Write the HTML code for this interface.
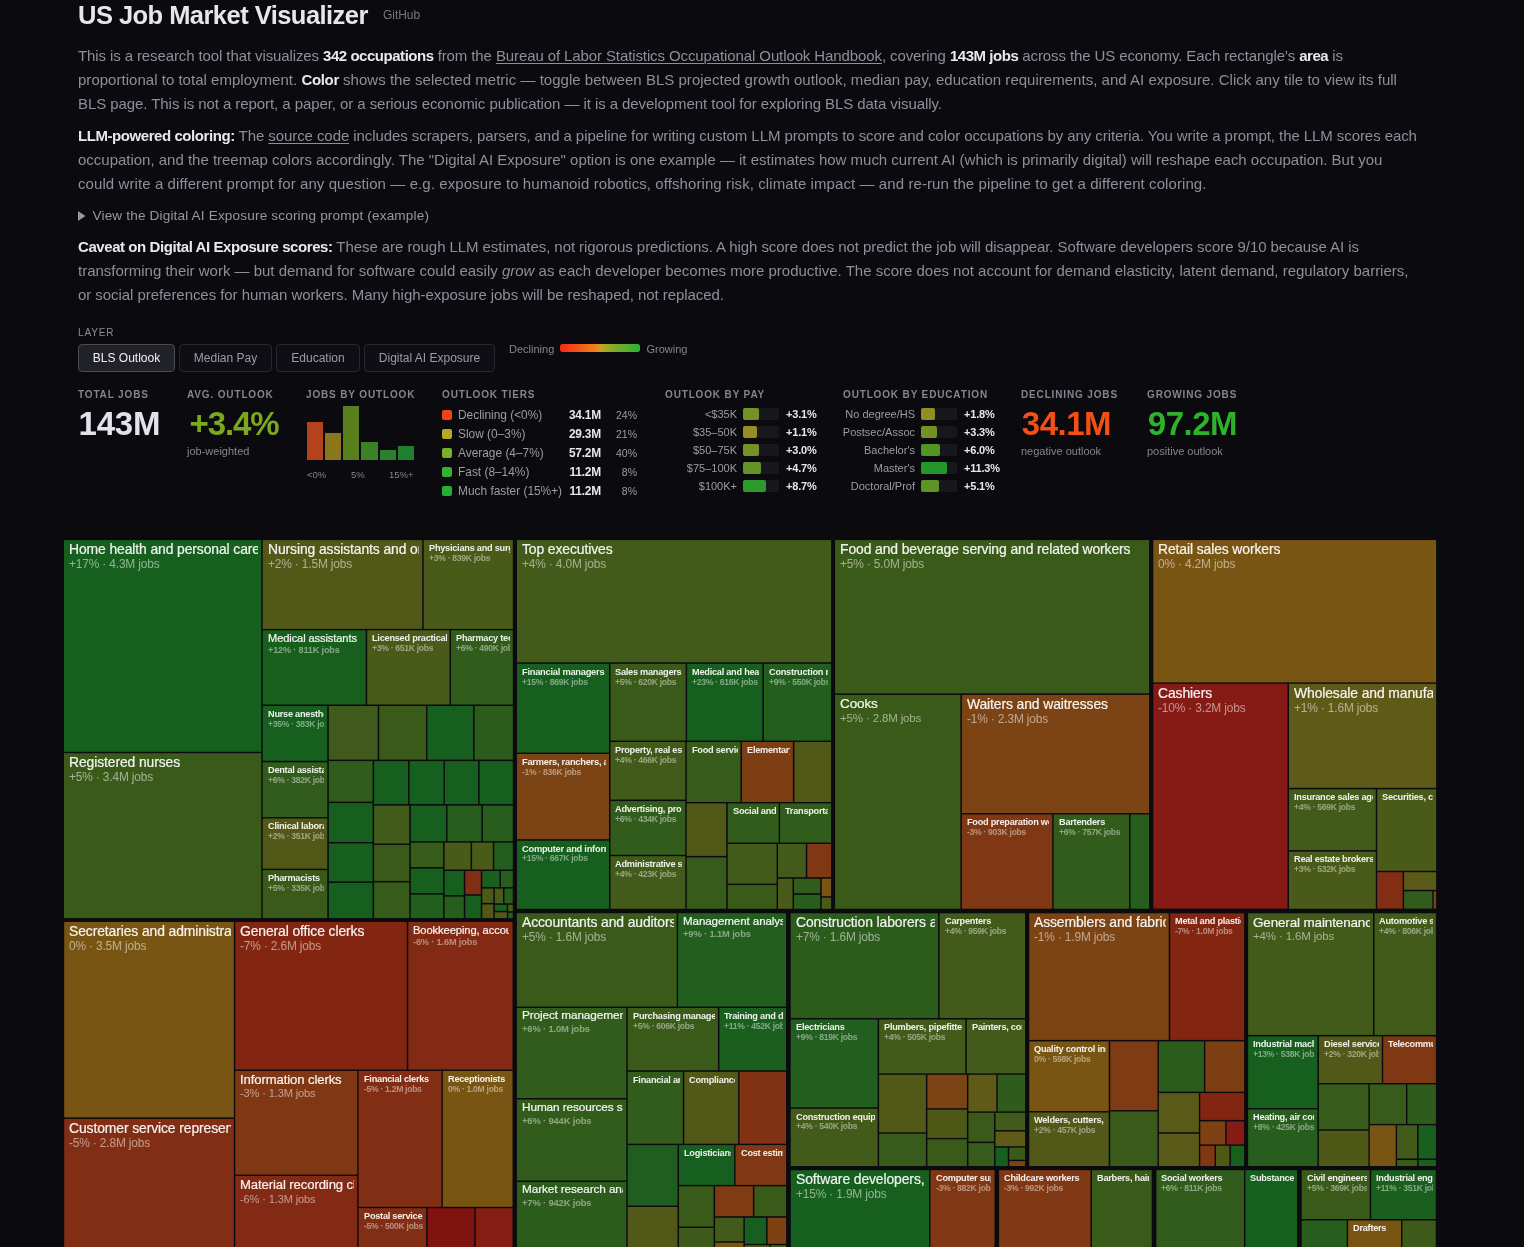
<!DOCTYPE html><html lang="en"><head><meta charset="utf-8"><title>US Job Market Visualizer</title>
<style>
*{box-sizing:border-box;margin:0;padding:0}
html,body{background:#0a0a0f;width:1524px;height:1247px;overflow:hidden}
body{position:relative;font-family:"Liberation Sans",sans-serif;color:#9898a4}
.abs{position:absolute;white-space:nowrap}
h1{letter-spacing:var(--ls,0px);position:absolute;left:78px;top:0;font-size:25.5px;line-height:30px;font-weight:700;color:#e6e6ee;white-space:nowrap}
.gh{letter-spacing:var(--ls,0px);position:absolute;font-size:12px;color:#77777f;white-space:nowrap}
.ln{position:absolute;left:78px;font-size:15px;line-height:20px;height:20px;white-space:nowrap;color:#8f8f9b;letter-spacing:var(--ls,0px)}
.ln b{color:#e8e8f0;font-weight:700;letter-spacing:calc(var(--ls,0px) - .36px)}
.ln u{text-decoration-thickness:1px;text-underline-offset:2px}
.sum{letter-spacing:var(--ls,0px);position:absolute;left:78px;font-size:13.6px;line-height:18px;color:#9797a3;white-space:nowrap}
.cap{position:absolute;font-size:10px;line-height:12px;letter-spacing:.85px;color:#85858f;text-transform:uppercase;white-space:nowrap;font-weight:700}
.btn{position:absolute;top:344px;height:28px;border:1px solid #27272f;border-radius:4px;background:#0e0e14;color:#9c9ca6;font-size:12px;line-height:26px;text-align:center;white-space:nowrap}
.btn.on{background:#212128;border-color:#4b4b55;color:#f0f0f4}
.big{position:absolute;font-size:33px;line-height:36px;font-weight:700;letter-spacing:-.7px;white-space:nowrap}
.sml{position:absolute;font-size:11px;line-height:13px;color:#85858f;white-space:nowrap}
.row{position:absolute;font-size:11.9px;line-height:13px;white-space:nowrap;color:#9c9ca6}
.row b{color:#e6e6ee;letter-spacing:-.2px}
.r{text-align:right}
.sq{position:absolute;width:10px;height:10px;border-radius:2px}
.trk{position:absolute;height:12px;border-radius:2px;background:#17171e}
.fil{position:absolute;left:0;top:0;height:12px;border-radius:2px}
#tm{position:absolute;left:0;top:0;width:1524px;height:1247px;overflow:hidden}
.t{position:absolute;overflow:hidden}
.t i,.t s{position:absolute;left:5px;right:3px;overflow:hidden;white-space:nowrap;font-style:normal;text-decoration:none;display:block}
.t s{color:rgba(255,255,255,.52)}
.t i{color:rgba(255,255,255,.92);font-weight:700;line-height:1.2}
.t s{line-height:1.2}
.tr i{font-weight:400;-webkit-text-stroke:.22px rgba(255,255,255,.9);letter-spacing:-.1px}
.tr s{letter-spacing:-.15px}
.tb i{letter-spacing:-.25px}
.tb s{font-weight:700;letter-spacing:-.3px;color:rgba(255,255,255,.45)}
</style></head><body>
<h1 id="h1" style="top:-0.5px;--ls:-0.540px;">US Job Market Visualizer</h1>
<span class="gh" id="gh" style="left:383px;top:7.8px;--ls:-0.052px;">GitHub</span>
<div class="ln" id="l1" style="top:45.7px;--ls:-0.106px;">This is a research tool that visualizes <b>342 occupations</b> from the <u>Bureau of Labor Statistics Occupational Outlook Handbook</u>, covering <b>143M jobs</b> across the US economy. Each rectangle's <b>area</b> is</div>
<div class="ln" id="l2" style="top:69.7px;--ls:0.023px;">proportional to total employment. <b>Color</b> shows the selected metric — toggle between BLS projected growth outlook, median pay, education requirements, and AI exposure. Click any tile to view its full</div>
<div class="ln" id="l3" style="top:93.6px;--ls:-0.070px;">BLS page. This is not a report, a paper, or a serious economic publication — it is a development tool for exploring BLS data visually.</div>
<div class="ln" id="l4" style="top:125.8px;--ls:-0.074px;"><b>LLM-powered coloring:</b> The <u>source code</u> includes scrapers, parsers, and a pipeline for writing custom LLM prompts to score and color occupations by any criteria. You write a prompt, the LLM scores each</div>
<div class="ln" id="l5" style="top:149.8px;--ls:-0.011px;">occupation, and the treemap colors accordingly. The "Digital AI Exposure" option is one example — it estimates how much current AI (which is primarily digital) will reshape each occupation. But you</div>
<div class="ln" id="l6" style="top:173.7px;--ls:0.085px;">could write a different prompt for any question — e.g. exposure to humanoid robotics, offshoring risk, climate impact — and re-run the pipeline to get a different coloring.</div>
<div class="ln" id="l7" style="top:237.0px;--ls:-0.068px;"><b>Caveat on Digital AI Exposure scores:</b> These are rough LLM estimates, not rigorous predictions. A high score does not predict the job will disappear. Software developers score 9/10 because AI is</div>
<div class="ln" id="l8" style="top:261.0px;--ls:-0.007px;">transforming their work — but demand for software could easily <i>grow</i> as each developer becomes more productive. The score does not account for demand elasticity, latent demand, regulatory barriers,</div>
<div class="ln" id="l9" style="top:285.0px;--ls:-0.054px;">or social preferences for human workers. Many high-exposure jobs will be reshaped, not replaced.</div>
<div class="sum" id="sum" style="top:206.5px;padding-left:14.5px;--ls:0.155px;"><svg width="8" height="10" viewBox="0 0 8 10" style="position:absolute;left:0;top:4.5px"><path d="M0 0L7.5 5L0 10Z" fill="#9797a3"/></svg>View the Digital AI Exposure scoring prompt (example)</div>
<div class="cap" style="left:78px;top:327px;font-weight:400;color:#8e8e98">Layer</div>
<div class="btn on" style="left:78px;width:97px">BLS Outlook</div>
<div class="btn" style="left:179px;width:93px">Median Pay</div>
<div class="btn" style="left:276px;width:84px">Education</div>
<div class="btn" style="left:364px;width:131px">Digital AI Exposure</div>
<div class="sml" style="left:509px;top:343px">Declining</div>
<div class="abs" style="left:560px;top:344px;width:80px;height:8px;border-radius:2.5px;background:linear-gradient(90deg,#f62a14 0%,#f25a18 25%,#ee8c1e 49.5%,#c0a226 50.5%,#7aac2a 70%,#2ab432 100%)"></div>
<div class="sml" style="left:646.5px;top:343px">Growing</div>
<div class="cap" style="left:78px;top:389px">Total jobs</div>
<div class="big" style="left:78.5px;top:406px;color:#e2e2ec;letter-spacing:-.2px">143M</div>
<div class="cap" style="left:187px;top:389px">Avg. outlook</div>
<div class="big" style="left:189.6px;top:406px;color:#7ca81e;letter-spacing:-1.15px">+3.4%</div>
<div class="sml" style="left:187px;top:445px">job-weighted</div>
<div class="cap" style="left:306px;top:389px">Jobs by outlook</div>
<div class="abs" style="left:307px;width:16px;top:422px;height:38px;background:#b4431b"></div>
<div class="abs" style="left:325px;width:16px;top:433px;height:27px;background:#8a761c"></div>
<div class="abs" style="left:343px;width:16px;top:406px;height:54px;background:#587f1c"></div>
<div class="abs" style="left:361px;width:17px;top:442px;height:18px;background:#3c8028"></div>
<div class="abs" style="left:380px;width:16px;top:450px;height:10px;background:#2a802c"></div>
<div class="abs" style="left:398px;width:16px;top:446px;height:14px;background:#1e802c"></div>
<div class="sml" style="left:307px;top:468px;font-size:9.5px">&lt;0%</div>
<div class="sml" style="left:351px;top:468px;font-size:9.5px">5%</div>
<div class="sml" style="left:389px;top:468px;font-size:9.5px">15%+</div>
<div class="cap" style="left:442px;top:389px">Outlook tiers</div>
<div class="sq" style="left:442px;top:410.3px;background:#f2421a"></div>
<div class="row" style="left:458px;top:408.8px">Declining (&lt;0%)</div>
<div class="row r" style="left:541px;width:60px;top:408.8px"><b>34.1M</b></div>
<div class="row r" style="left:597px;width:40px;top:408.8px;font-size:10.5px">24%</div>
<div class="sq" style="left:442px;top:429.3px;background:#b4a824"></div>
<div class="row" style="left:458px;top:427.8px">Slow (0–3%)</div>
<div class="row r" style="left:541px;width:60px;top:427.8px"><b>29.3M</b></div>
<div class="row r" style="left:597px;width:40px;top:427.8px;font-size:10.5px">21%</div>
<div class="sq" style="left:442px;top:448.3px;background:#78b028"></div>
<div class="row" style="left:458px;top:446.8px">Average (4–7%)</div>
<div class="row r" style="left:541px;width:60px;top:446.8px"><b>57.2M</b></div>
<div class="row r" style="left:597px;width:40px;top:446.8px;font-size:10.5px">40%</div>
<div class="sq" style="left:442px;top:467.3px;background:#34b032"></div>
<div class="row" style="left:458px;top:465.8px">Fast (8–14%)</div>
<div class="row r" style="left:541px;width:60px;top:465.8px"><b>11.2M</b></div>
<div class="row r" style="left:597px;width:40px;top:465.8px;font-size:10.5px">8%</div>
<div class="sq" style="left:442px;top:486.3px;background:#24b034"></div>
<div class="row" style="left:458px;top:484.8px">Much faster (15%+)</div>
<div class="row r" style="left:541px;width:60px;top:484.8px"><b>11.2M</b></div>
<div class="row r" style="left:597px;width:40px;top:484.8px;font-size:10.5px">8%</div>
<div class="cap" style="left:665px;top:389px">Outlook by pay</div>
<div class="row r" style="left:657px;width:80px;top:407.5px;font-size:11px">&lt;$35K</div>
<div class="trk" style="left:743px;width:36px;top:408px"><div class="fil" style="width:16px;background:#769226"></div></div>
<div class="row" style="left:786px;top:407.5px;font-size:11px"><b>+3.1%</b></div>
<div class="row r" style="left:657px;width:80px;top:425.5px;font-size:11px">$35–50K</div>
<div class="trk" style="left:743px;width:36px;top:426px"><div class="fil" style="width:14px;background:#988c22"></div></div>
<div class="row" style="left:786px;top:425.5px;font-size:11px"><b>+1.1%</b></div>
<div class="row r" style="left:657px;width:80px;top:443.5px;font-size:11px">$50–75K</div>
<div class="trk" style="left:743px;width:36px;top:444px"><div class="fil" style="width:16px;background:#769226"></div></div>
<div class="row" style="left:786px;top:443.5px;font-size:11px"><b>+3.0%</b></div>
<div class="row r" style="left:657px;width:80px;top:461.5px;font-size:11px">$75–100K</div>
<div class="trk" style="left:743px;width:36px;top:462px"><div class="fil" style="width:18px;background:#629426"></div></div>
<div class="row" style="left:786px;top:461.5px;font-size:11px"><b>+4.7%</b></div>
<div class="row r" style="left:657px;width:80px;top:479.5px;font-size:11px">$100K+</div>
<div class="trk" style="left:743px;width:36px;top:480px"><div class="fil" style="width:23px;background:#2e9a2c"></div></div>
<div class="row" style="left:786px;top:479.5px;font-size:11px"><b>+8.7%</b></div>
<div class="cap" style="left:843px;top:389px">Outlook by education</div>
<div class="row r" style="left:835px;width:80px;top:407.5px;font-size:11px">No degree/HS</div>
<div class="trk" style="left:921px;width:36px;top:408px"><div class="fil" style="width:14px;background:#8e9024"></div></div>
<div class="row" style="left:964px;top:407.5px;font-size:11px"><b>+1.8%</b></div>
<div class="row r" style="left:835px;width:80px;top:425.5px;font-size:11px">Postsec/Assoc</div>
<div class="trk" style="left:921px;width:36px;top:426px"><div class="fil" style="width:16px;background:#749224"></div></div>
<div class="row" style="left:964px;top:425.5px;font-size:11px"><b>+3.3%</b></div>
<div class="row r" style="left:835px;width:80px;top:443.5px;font-size:11px">Bachelor's</div>
<div class="trk" style="left:921px;width:36px;top:444px"><div class="fil" style="width:19px;background:#529426"></div></div>
<div class="row" style="left:964px;top:443.5px;font-size:11px"><b>+6.0%</b></div>
<div class="row r" style="left:835px;width:80px;top:461.5px;font-size:11px">Master's</div>
<div class="trk" style="left:921px;width:36px;top:462px"><div class="fil" style="width:26px;background:#24962a"></div></div>
<div class="row" style="left:964px;top:461.5px;font-size:11px"><b>+11.3%</b></div>
<div class="row r" style="left:835px;width:80px;top:479.5px;font-size:11px">Doctoral/Prof</div>
<div class="trk" style="left:921px;width:36px;top:480px"><div class="fil" style="width:18px;background:#5e9426"></div></div>
<div class="row" style="left:964px;top:479.5px;font-size:11px"><b>+5.1%</b></div>
<div class="cap" style="left:1021px;top:389px">Declining jobs</div>
<div class="big" style="left:1021.8px;top:406px;color:#f45016;letter-spacing:-.5px">34.1M</div>
<div class="sml" style="left:1021px;top:445px">negative outlook</div>
<div class="cap" style="left:1147px;top:389px">Growing jobs</div>
<div class="big" style="left:1147.8px;top:406px;color:#2eb22a;letter-spacing:-.5px">97.2M</div>
<div class="sml" style="left:1147px;top:445px">positive outlook</div>
<div id="tm">
<svg width="1524" height="1247" viewBox="0 0 1524 1247" style="position:absolute;left:0;top:0">
<rect x="64.0" y="540.1" width="197.3" height="211.7" fill="#165f1e"/>
<rect x="64.0" y="753.2" width="197.3" height="164.9" fill="#3a5a1a"/>
<rect x="262.7" y="540.1" width="159.5" height="88.8" fill="#525818"/>
<rect x="423.7" y="540.1" width="89.1" height="88.8" fill="#4a5a19"/>
<rect x="262.7" y="630.3" width="103.0" height="74.2" fill="#185f1e"/>
<rect x="367.2" y="630.3" width="82.3" height="74.2" fill="#4a5a19"/>
<rect x="451.0" y="630.3" width="61.8" height="74.2" fill="#325c1c"/>
<rect x="262.7" y="706.0" width="64.6" height="54.8" fill="#165f1e"/>
<rect x="262.7" y="762.3" width="64.6" height="54.8" fill="#325c1c"/>
<rect x="262.7" y="818.5" width="64.6" height="50.2" fill="#525818"/>
<rect x="262.7" y="870.1" width="64.6" height="48.0" fill="#3a5a1a"/>
<rect x="328.8" y="706.0" width="48.9" height="53.6" fill="#3f5a1a"/>
<rect x="379.2" y="706.0" width="46.8" height="53.6" fill="#3a5a1a"/>
<rect x="427.4" y="706.0" width="45.7" height="53.6" fill="#175f1e"/>
<rect x="474.6" y="706.0" width="38.2" height="53.6" fill="#2c5c1c"/>
<rect x="328.8" y="761.1" width="43.8" height="40.5" fill="#315c1c"/>
<rect x="328.8" y="803.1" width="43.8" height="38.9" fill="#165f1e"/>
<rect x="328.8" y="843.4" width="43.8" height="38.0" fill="#165f1e"/>
<rect x="328.8" y="882.9" width="43.8" height="35.2" fill="#175f1e"/>
<rect x="374.1" y="761.1" width="34.0" height="43.0" fill="#165f1e"/>
<rect x="409.6" y="761.1" width="33.9" height="43.0" fill="#165f1e"/>
<rect x="444.9" y="761.1" width="33.2" height="43.0" fill="#165f1e"/>
<rect x="479.6" y="761.1" width="33.2" height="43.0" fill="#165f1e"/>
<rect x="374.1" y="805.6" width="35.2" height="37.9" fill="#425a1a"/>
<rect x="374.1" y="844.9" width="35.2" height="36.0" fill="#3a5a1a"/>
<rect x="374.1" y="882.4" width="35.2" height="35.7" fill="#365b1b"/>
<rect x="410.8" y="805.6" width="35.3" height="35.6" fill="#165f1e"/>
<rect x="447.5" y="805.6" width="33.9" height="35.6" fill="#275d1d"/>
<rect x="482.9" y="805.6" width="29.9" height="35.6" fill="#275d1d"/>
<rect x="410.8" y="842.6" width="32.3" height="24.5" fill="#365b1b"/>
<rect x="444.6" y="842.6" width="26.0" height="26.9" fill="#4a5a19"/>
<rect x="472.1" y="842.6" width="20.7" height="26.9" fill="#4a5a19"/>
<rect x="494.3" y="842.6" width="18.5" height="26.9" fill="#225e1e"/>
<rect x="410.8" y="868.6" width="32.3" height="24.5" fill="#165f1e"/>
<rect x="410.8" y="894.6" width="32.3" height="23.5" fill="#225e1e"/>
<rect x="444.6" y="871.0" width="19.2" height="24.1" fill="#165f1e"/>
<rect x="444.6" y="896.6" width="19.2" height="21.5" fill="#275d1d"/>
<rect x="465.3" y="871.0" width="15.5" height="23.2" fill="#822e14"/>
<rect x="465.3" y="895.7" width="15.5" height="22.4" fill="#165f1e"/>
<rect x="482.3" y="871.0" width="17.2" height="16.1" fill="#1b5f1e"/>
<rect x="501.0" y="871.0" width="11.8" height="16.1" fill="#275d1d"/>
<rect x="482.3" y="888.6" width="11.0" height="14.3" fill="#4a5a19"/>
<rect x="494.8" y="888.6" width="8.2" height="14.7" fill="#4a5a19"/>
<rect x="504.5" y="888.6" width="8.3" height="14.7" fill="#275d1d"/>
<rect x="482.3" y="904.4" width="11.0" height="13.7" fill="#525818"/>
<rect x="494.8" y="904.8" width="12.0" height="6.0" fill="#175f1e"/>
<rect x="508.2" y="904.8" width="4.6" height="6.5" fill="#4e5918"/>
<rect x="494.8" y="912.3" width="12.0" height="5.8" fill="#555818"/>
<rect x="508.2" y="912.7" width="4.6" height="5.4" fill="#275d1d"/>
<rect x="517.0" y="540.1" width="314.1" height="122.2" fill="#425a1a"/>
<rect x="517.0" y="663.8" width="92.0" height="88.8" fill="#165f1e"/>
<rect x="610.5" y="663.8" width="75.2" height="76.8" fill="#3a5a1a"/>
<rect x="687.1" y="663.8" width="75.3" height="76.8" fill="#165f1e"/>
<rect x="763.9" y="663.8" width="67.2" height="76.8" fill="#225e1e"/>
<rect x="517.0" y="754.0" width="92.0" height="85.2" fill="#7c4414"/>
<rect x="517.0" y="840.7" width="92.0" height="68.1" fill="#165f1e"/>
<rect x="610.5" y="742.0" width="74.8" height="57.6" fill="#425a1a"/>
<rect x="610.5" y="801.1" width="74.8" height="53.7" fill="#325c1c"/>
<rect x="610.5" y="856.2" width="74.8" height="52.6" fill="#425a1a"/>
<rect x="686.7" y="742.0" width="53.8" height="60.0" fill="#365b1b"/>
<rect x="742.0" y="742.0" width="50.9" height="60.0" fill="#7e3e14"/>
<rect x="794.4" y="742.0" width="36.7" height="60.0" fill="#525818"/>
<rect x="686.7" y="803.4" width="39.5" height="52.5" fill="#525818"/>
<rect x="686.7" y="857.4" width="39.5" height="51.4" fill="#365b1b"/>
<rect x="727.7" y="803.4" width="51.0" height="39.2" fill="#325c1c"/>
<rect x="780.1" y="803.4" width="51.0" height="39.2" fill="#325c1c"/>
<rect x="727.7" y="844.0" width="48.9" height="39.6" fill="#425a1a"/>
<rect x="727.7" y="885.1" width="48.9" height="23.7" fill="#3a5a1a"/>
<rect x="778.0" y="844.0" width="27.8" height="33.2" fill="#425a1a"/>
<rect x="807.3" y="844.0" width="23.8" height="33.2" fill="#803814"/>
<rect x="778.0" y="878.7" width="14.5" height="30.1" fill="#4a5a19"/>
<rect x="794.0" y="878.7" width="26.2" height="14.6" fill="#325c1c"/>
<rect x="794.0" y="894.8" width="26.2" height="14.0" fill="#275d1d"/>
<rect x="821.7" y="878.7" width="9.4" height="17.5" fill="#795513"/>
<rect x="821.7" y="897.6" width="9.4" height="11.2" fill="#4a5a19"/>
<rect x="835.1" y="540.1" width="314.0" height="153.3" fill="#3a5a1a"/>
<rect x="835.1" y="694.9" width="125.3" height="213.8" fill="#3a5a1a"/>
<rect x="961.9" y="694.9" width="187.2" height="118.2" fill="#7c4414"/>
<rect x="961.9" y="814.5" width="90.3" height="94.2" fill="#803814"/>
<rect x="1053.6" y="814.5" width="75.4" height="94.2" fill="#325c1c"/>
<rect x="1130.5" y="814.5" width="18.6" height="94.2" fill="#275d1d"/>
<rect x="1153.3" y="540.1" width="282.8" height="142.3" fill="#795513"/>
<rect x="1153.3" y="683.8" width="134.2" height="224.8" fill="#861a14"/>
<rect x="1289.0" y="683.8" width="147.1" height="104.0" fill="#605a18"/>
<rect x="1289.0" y="789.3" width="86.8" height="60.8" fill="#425a1a"/>
<rect x="1289.0" y="851.6" width="86.8" height="57.1" fill="#4a5a19"/>
<rect x="1377.2" y="789.3" width="58.9" height="81.5" fill="#4a5a19"/>
<rect x="1377.2" y="872.2" width="25.5" height="36.4" fill="#822e14"/>
<rect x="1404.1" y="872.2" width="32.0" height="17.6" fill="#595918"/>
<rect x="1404.1" y="891.3" width="28.2" height="17.3" fill="#325c1c"/>
<rect x="1433.7" y="891.3" width="2.4" height="17.3" fill="#7c4414"/>
<rect x="64.2" y="921.9" width="169.6" height="195.5" fill="#795513"/>
<rect x="64.2" y="1118.9" width="169.6" height="131.1" fill="#822e14"/>
<rect x="235.3" y="921.9" width="171.5" height="147.6" fill="#822612"/>
<rect x="408.3" y="921.9" width="104.2" height="147.6" fill="#822a13"/>
<rect x="235.3" y="1070.9" width="121.9" height="103.7" fill="#803814"/>
<rect x="235.3" y="1176.0" width="121.9" height="74.0" fill="#822a13"/>
<rect x="358.6" y="1070.9" width="82.8" height="135.9" fill="#822e14"/>
<rect x="442.8" y="1070.9" width="69.7" height="135.9" fill="#795513"/>
<rect x="358.6" y="1208.2" width="67.6" height="41.8" fill="#822e14"/>
<rect x="427.7" y="1208.2" width="46.6" height="41.8" fill="#801210"/>
<rect x="475.8" y="1208.2" width="36.7" height="41.8" fill="#851e13"/>
<rect x="516.9" y="913.2" width="159.8" height="93.4" fill="#3a5a1a"/>
<rect x="678.1" y="913.2" width="107.9" height="93.4" fill="#225e1e"/>
<rect x="516.9" y="1008.0" width="109.4" height="90.0" fill="#325c1c"/>
<rect x="516.9" y="1099.5" width="109.4" height="81.0" fill="#325c1c"/>
<rect x="516.9" y="1181.9" width="109.4" height="68.1" fill="#2c5c1c"/>
<rect x="627.7" y="1008.0" width="90.2" height="62.3" fill="#3a5a1a"/>
<rect x="719.4" y="1008.0" width="66.6" height="62.3" fill="#1b5f1e"/>
<rect x="627.7" y="1071.8" width="55.1" height="71.9" fill="#325c1c"/>
<rect x="684.3" y="1071.8" width="53.8" height="71.9" fill="#525818"/>
<rect x="739.5" y="1071.8" width="46.5" height="71.9" fill="#813314"/>
<rect x="627.7" y="1145.1" width="49.8" height="60.5" fill="#1f5e1e"/>
<rect x="627.7" y="1207.0" width="49.8" height="43.0" fill="#525818"/>
<rect x="679.0" y="1145.1" width="55.1" height="39.8" fill="#175f1e"/>
<rect x="735.5" y="1145.1" width="50.6" height="39.8" fill="#803814"/>
<rect x="679.0" y="1186.3" width="34.6" height="40.3" fill="#3a5a1a"/>
<rect x="679.0" y="1228.0" width="34.6" height="22.0" fill="#3e5a1a"/>
<rect x="715.1" y="1186.3" width="37.8" height="29.9" fill="#7f3b14"/>
<rect x="754.4" y="1186.3" width="31.7" height="29.9" fill="#3a5a1a"/>
<rect x="715.1" y="1217.7" width="28.3" height="23.6" fill="#425a1a"/>
<rect x="744.8" y="1217.7" width="21.3" height="26.1" fill="#175f1e"/>
<rect x="767.6" y="1217.7" width="18.5" height="26.1" fill="#7d4114"/>
<rect x="715.1" y="1242.7" width="28.3" height="7.3" fill="#795513"/>
<rect x="744.8" y="1245.2" width="24.7" height="4.8" fill="#4a5a19"/>
<rect x="770.9" y="1245.2" width="15.2" height="4.8" fill="#4a5a19"/>
<rect x="790.7" y="913.3" width="147.4" height="104.7" fill="#2c5c1c"/>
<rect x="939.6" y="913.3" width="85.5" height="104.7" fill="#425a1a"/>
<rect x="790.7" y="1019.5" width="86.9" height="87.8" fill="#225e1e"/>
<rect x="790.7" y="1108.7" width="86.9" height="57.3" fill="#425a1a"/>
<rect x="879.1" y="1019.5" width="86.2" height="53.9" fill="#425a1a"/>
<rect x="966.8" y="1019.5" width="58.3" height="53.9" fill="#425a1a"/>
<rect x="879.1" y="1074.8" width="46.8" height="57.5" fill="#525818"/>
<rect x="879.1" y="1133.7" width="46.8" height="32.3" fill="#365b1b"/>
<rect x="927.4" y="1074.8" width="39.5" height="33.4" fill="#7c4414"/>
<rect x="927.4" y="1109.6" width="39.5" height="28.3" fill="#4e5918"/>
<rect x="927.4" y="1139.3" width="39.5" height="26.7" fill="#3a5a1a"/>
<rect x="968.4" y="1074.8" width="27.9" height="36.6" fill="#605a18"/>
<rect x="997.7" y="1074.8" width="27.4" height="36.6" fill="#2f5c1c"/>
<rect x="968.4" y="1112.8" width="25.6" height="28.8" fill="#3a5a1a"/>
<rect x="968.4" y="1143.1" width="25.6" height="22.9" fill="#365b1b"/>
<rect x="995.5" y="1112.8" width="29.6" height="17.3" fill="#425a1a"/>
<rect x="995.5" y="1131.6" width="29.6" height="14.6" fill="#605a18"/>
<rect x="995.5" y="1147.6" width="12.3" height="18.4" fill="#175f1e"/>
<rect x="1009.3" y="1147.6" width="15.8" height="12.1" fill="#3a5a1a"/>
<rect x="1009.3" y="1161.1" width="15.8" height="4.9" fill="#7d4114"/>
<rect x="1029.3" y="913.3" width="139.4" height="126.6" fill="#7c4414"/>
<rect x="1170.2" y="913.3" width="73.9" height="126.6" fill="#822612"/>
<rect x="1029.3" y="1041.4" width="79.4" height="69.7" fill="#795513"/>
<rect x="1029.3" y="1112.5" width="79.4" height="53.5" fill="#525818"/>
<rect x="1110.2" y="1041.4" width="47.3" height="68.7" fill="#7f3b14"/>
<rect x="1110.2" y="1111.5" width="47.3" height="54.5" fill="#3a5a1a"/>
<rect x="1158.9" y="1041.4" width="45.0" height="50.3" fill="#2c5c1c"/>
<rect x="1205.3" y="1041.4" width="38.8" height="50.3" fill="#7e3e14"/>
<rect x="1158.9" y="1093.1" width="40.0" height="39.1" fill="#595918"/>
<rect x="1158.9" y="1133.7" width="40.0" height="32.3" fill="#595918"/>
<rect x="1200.3" y="1093.1" width="43.8" height="26.8" fill="#822612"/>
<rect x="1200.3" y="1121.4" width="24.9" height="23.0" fill="#7d4114"/>
<rect x="1226.6" y="1121.4" width="17.5" height="23.0" fill="#861a14"/>
<rect x="1200.3" y="1145.8" width="14.3" height="20.2" fill="#803814"/>
<rect x="1216.0" y="1145.8" width="13.4" height="20.2" fill="#4e5918"/>
<rect x="1230.9" y="1145.8" width="13.2" height="20.2" fill="#185f1e"/>
<rect x="1248.1" y="913.3" width="124.9" height="121.6" fill="#425a1a"/>
<rect x="1374.5" y="913.3" width="61.4" height="121.6" fill="#425a1a"/>
<rect x="1248.1" y="1036.4" width="69.3" height="71.6" fill="#175f1e"/>
<rect x="1248.1" y="1109.4" width="69.3" height="56.6" fill="#275d1d"/>
<rect x="1318.9" y="1036.4" width="62.9" height="46.6" fill="#525818"/>
<rect x="1383.2" y="1036.4" width="52.7" height="46.6" fill="#803814"/>
<rect x="1318.9" y="1084.4" width="49.5" height="44.9" fill="#365b1b"/>
<rect x="1318.9" y="1130.7" width="49.5" height="35.3" fill="#4e5918"/>
<rect x="1369.8" y="1084.4" width="36.2" height="39.5" fill="#365b1b"/>
<rect x="1407.4" y="1084.4" width="28.5" height="39.5" fill="#2f5c1c"/>
<rect x="1369.8" y="1125.3" width="25.9" height="40.7" fill="#795513"/>
<rect x="1397.1" y="1125.3" width="20.0" height="33.2" fill="#425a1a"/>
<rect x="1418.6" y="1125.3" width="17.3" height="33.2" fill="#1b5f1e"/>
<rect x="1397.1" y="1160.0" width="20.0" height="6.0" fill="#3a5a1a"/>
<rect x="1418.6" y="1160.0" width="17.3" height="6.0" fill="#1b5f1e"/>
<rect x="790.8" y="1170.2" width="138.3" height="79.8" fill="#165f1e"/>
<rect x="930.5" y="1170.2" width="64.0" height="79.8" fill="#803814"/>
<rect x="999.1" y="1170.2" width="91.4" height="79.8" fill="#803814"/>
<rect x="1092.0" y="1170.2" width="59.7" height="79.8" fill="#3a5a1a"/>
<rect x="1156.4" y="1170.2" width="87.5" height="79.8" fill="#325c1c"/>
<rect x="1245.4" y="1170.2" width="51.6" height="79.8" fill="#175f1e"/>
<rect x="1301.7" y="1170.2" width="68.0" height="48.8" fill="#3a5a1a"/>
<rect x="1371.2" y="1170.2" width="64.5" height="48.8" fill="#1b5f1e"/>
<rect x="1301.7" y="1220.5" width="45.0" height="29.5" fill="#275d1d"/>
<rect x="1348.1" y="1220.5" width="52.9" height="29.5" fill="#795513"/>
<rect x="1402.4" y="1220.5" width="33.3" height="29.5" fill="#3e5a1a"/>
</svg>
<div class="t tr" style="left:64px;top:540px;width:197px;height:212px"><i style="top:1px;line-height:16px;font-size:13.9px">Home health and personal care aides</i><s style="top:17px;line-height:14px;font-size:11.9px;">+17% · 4.3M jobs</s></div>
<div class="t tr" style="left:64px;top:753px;width:197px;height:165px"><i style="top:1px;line-height:16px;font-size:13.9px">Registered nurses</i><s style="top:17px;line-height:14px;font-size:11.9px;">+5% · 3.4M jobs</s></div>
<div class="t tr" style="left:263px;top:540px;width:159px;height:89px"><i style="top:1px;line-height:16px;font-size:13.9px">Nursing assistants and orderlies</i><s style="top:17px;line-height:14px;font-size:11.9px;">+2% · 1.5M jobs</s></div>
<div class="t tb" style="left:424px;top:540px;width:89px;height:89px"><i style="top:3px;line-height:10px;font-size:9.2px">Physicians and surgeons</i><s style="top:13px;line-height:10px;font-size:8.6px;">+3% · 839K jobs</s></div>
<div class="t tr" style="left:263px;top:630px;width:103px;height:75px"><i style="top:2px;line-height:12px;font-size:11.1px">Medical assistants</i><s style="top:15px;line-height:10px;font-size:9.1px;font-weight:700;color:rgba(255,255,255,.45);">+12% · 811K jobs</s></div>
<div class="t tb" style="left:367px;top:630px;width:83px;height:75px"><i style="top:3px;line-height:10px;font-size:9.2px">Licensed practical and licensed vocational nurses</i><s style="top:13px;line-height:10px;font-size:8.6px;">+3% · 651K jobs</s></div>
<div class="t tb" style="left:451px;top:630px;width:62px;height:75px"><i style="top:3px;line-height:10px;font-size:9.2px">Pharmacy technicians</i><s style="top:13px;line-height:10px;font-size:8.6px;">+6% · 490K jobs</s></div>
<div class="t tb" style="left:263px;top:706px;width:64px;height:55px"><i style="top:3px;line-height:10px;font-size:9.2px">Nurse anesthetists, nurse midwives</i><s style="top:13px;line-height:10px;font-size:8.6px;">+35% · 383K jobs</s></div>
<div class="t tb" style="left:263px;top:762px;width:64px;height:55px"><i style="top:3px;line-height:10px;font-size:9.2px">Dental assistants</i><s style="top:13px;line-height:10px;font-size:8.6px;">+6% · 382K jobs</s></div>
<div class="t tb" style="left:263px;top:819px;width:64px;height:50px"><i style="top:2px;line-height:10px;font-size:9.2px">Clinical laboratory technologists</i><s style="top:12px;line-height:10px;font-size:8.6px;">+2% · 351K jobs</s></div>
<div class="t tb" style="left:263px;top:870px;width:64px;height:48px"><i style="top:3px;line-height:10px;font-size:9.2px">Pharmacists</i><s style="top:13px;line-height:10px;font-size:8.6px;">+5% · 335K jobs</s></div>
<div class="t tr" style="left:517px;top:540px;width:314px;height:122px"><i style="top:1px;line-height:16px;font-size:13.9px">Top executives</i><s style="top:17px;line-height:14px;font-size:11.9px;">+4% · 4.0M jobs</s></div>
<div class="t tb" style="left:517px;top:664px;width:92px;height:89px"><i style="top:3px;line-height:10px;font-size:9.3px">Financial managers</i><s style="top:13px;line-height:10px;font-size:8.6px;">+15% · 869K jobs</s></div>
<div class="t tb" style="left:610px;top:664px;width:76px;height:77px"><i style="top:3px;line-height:10px;font-size:9.2px">Sales managers</i><s style="top:13px;line-height:10px;font-size:8.6px;">+5% · 620K jobs</s></div>
<div class="t tb" style="left:687px;top:664px;width:75px;height:77px"><i style="top:3px;line-height:10px;font-size:9.2px">Medical and health services managers</i><s style="top:13px;line-height:10px;font-size:8.6px;">+23% · 616K jobs</s></div>
<div class="t tb" style="left:764px;top:664px;width:67px;height:77px"><i style="top:3px;line-height:10px;font-size:9.2px">Construction managers</i><s style="top:13px;line-height:10px;font-size:8.6px;">+9% · 550K jobs</s></div>
<div class="t tb" style="left:517px;top:754px;width:92px;height:85px"><i style="top:3px;line-height:10px;font-size:9.3px">Farmers, ranchers, and other agricultural managers</i><s style="top:13px;line-height:10px;font-size:8.6px;">-1% · 836K jobs</s></div>
<div class="t tb" style="left:517px;top:841px;width:92px;height:68px"><i style="top:3px;line-height:10px;font-size:9.3px">Computer and information systems managers</i><s style="top:12px;line-height:10px;font-size:8.6px;">+15% · 667K jobs</s></div>
<div class="t tb" style="left:610px;top:742px;width:75px;height:58px"><i style="top:3px;line-height:10px;font-size:9.2px">Property, real estate, and community association managers</i><s style="top:13px;line-height:10px;font-size:8.6px;">+4% · 466K jobs</s></div>
<div class="t tb" style="left:610px;top:801px;width:75px;height:54px"><i style="top:3px;line-height:10px;font-size:9.2px">Advertising, promotions, and marketing managers</i><s style="top:13px;line-height:10px;font-size:8.6px;">+6% · 434K jobs</s></div>
<div class="t tb" style="left:610px;top:856px;width:75px;height:53px"><i style="top:3px;line-height:10px;font-size:9.2px">Administrative services and facilities managers</i><s style="top:13px;line-height:10px;font-size:8.6px;">+4% · 423K jobs</s></div>
<div class="t tb" style="left:687px;top:742px;width:54px;height:60px"><i style="top:3px;line-height:10px;font-size:9.2px">Food service managers</i></div>
<div class="t tb" style="left:742px;top:742px;width:51px;height:60px"><i style="top:3px;line-height:10px;font-size:9.2px">Elementary, middle, and high school principals</i></div>
<div class="t tb" style="left:728px;top:803px;width:51px;height:40px"><i style="top:3px;line-height:10px;font-size:9.2px">Social and community service managers</i></div>
<div class="t tb" style="left:780px;top:803px;width:51px;height:40px"><i style="top:3px;line-height:10px;font-size:9.2px">Transportation, storage, and distribution managers</i></div>
<div class="t tr" style="left:835px;top:540px;width:314px;height:153px"><i style="top:1px;line-height:16px;font-size:13.9px">Food and beverage serving and related workers</i><s style="top:17px;line-height:14px;font-size:11.9px;">+5% · 5.0M jobs</s></div>
<div class="t tr" style="left:835px;top:695px;width:125px;height:214px"><i style="top:1px;line-height:15px;font-size:13.5px">Cooks</i><s style="top:17px;line-height:12px;font-size:11.5px;">+5% · 2.8M jobs</s></div>
<div class="t tr" style="left:962px;top:695px;width:187px;height:118px"><i style="top:1px;line-height:16px;font-size:13.9px">Waiters and waitresses</i><s style="top:17px;line-height:14px;font-size:11.9px;">-1% · 2.3M jobs</s></div>
<div class="t tb" style="left:962px;top:815px;width:90px;height:94px"><i style="top:2px;line-height:10px;font-size:9.2px">Food preparation workers</i><s style="top:12px;line-height:10px;font-size:8.6px;">-3% · 903K jobs</s></div>
<div class="t tb" style="left:1054px;top:815px;width:75px;height:94px"><i style="top:2px;line-height:10px;font-size:9.2px">Bartenders</i><s style="top:12px;line-height:10px;font-size:8.6px;">+6% · 757K jobs</s></div>
<div class="t tr" style="left:1153px;top:540px;width:283px;height:142px"><i style="top:1px;line-height:16px;font-size:13.9px">Retail sales workers</i><s style="top:17px;line-height:14px;font-size:11.9px;">0% · 4.2M jobs</s></div>
<div class="t tr" style="left:1153px;top:684px;width:135px;height:225px"><i style="top:1px;line-height:16px;font-size:13.9px">Cashiers</i><s style="top:17px;line-height:14px;font-size:11.9px;">-10% · 3.2M jobs</s></div>
<div class="t tr" style="left:1289px;top:684px;width:147px;height:104px"><i style="top:1px;line-height:16px;font-size:13.9px">Wholesale and manufacturing sales representatives</i><s style="top:17px;line-height:14px;font-size:11.9px;">+1% · 1.6M jobs</s></div>
<div class="t tb" style="left:1289px;top:789px;width:87px;height:61px"><i style="top:3px;line-height:10px;font-size:9.2px">Insurance sales agents</i><s style="top:13px;line-height:10px;font-size:8.6px;">+4% · 569K jobs</s></div>
<div class="t tb" style="left:1289px;top:852px;width:87px;height:57px"><i style="top:2px;line-height:10px;font-size:9.2px">Real estate brokers and sales agents</i><s style="top:12px;line-height:10px;font-size:8.6px;">+3% · 532K jobs</s></div>
<div class="t tb" style="left:1377px;top:789px;width:59px;height:82px"><i style="top:3px;line-height:10px;font-size:9.2px">Securities, commodities, and financial services sales agents</i></div>
<div class="t tr" style="left:64px;top:922px;width:170px;height:195px"><i style="top:1px;line-height:16px;font-size:13.9px">Secretaries and administrative assistants</i><s style="top:17px;line-height:14px;font-size:11.9px;">0% · 3.5M jobs</s></div>
<div class="t tr" style="left:64px;top:1119px;width:170px;height:131px"><i style="top:1px;line-height:16px;font-size:13.9px">Customer service representatives</i><s style="top:17px;line-height:14px;font-size:11.9px;">-5% · 2.8M jobs</s></div>
<div class="t tr" style="left:235px;top:922px;width:172px;height:147px"><i style="top:1px;line-height:16px;font-size:13.9px">General office clerks</i><s style="top:17px;line-height:14px;font-size:11.9px;">-7% · 2.6M jobs</s></div>
<div class="t tr" style="left:408px;top:922px;width:104px;height:147px"><i style="top:2px;line-height:12px;font-size:11.2px">Bookkeeping, accounting, and auditing clerks</i><s style="top:15px;line-height:10px;font-size:9.2px;font-weight:700;color:rgba(255,255,255,.45);">-6% · 1.6M jobs</s></div>
<div class="t tr" style="left:235px;top:1071px;width:122px;height:104px"><i style="top:1px;line-height:15px;font-size:13.1px">Information clerks</i><s style="top:16px;line-height:12px;font-size:11.1px;">-3% · 1.3M jobs</s></div>
<div class="t tr" style="left:235px;top:1176px;width:122px;height:74px"><i style="top:1px;line-height:15px;font-size:13.1px">Material recording clerks</i><s style="top:17px;line-height:12px;font-size:11.1px;">-6% · 1.3M jobs</s></div>
<div class="t tb" style="left:359px;top:1071px;width:82px;height:136px"><i style="top:3px;line-height:10px;font-size:9.2px">Financial clerks</i><s style="top:13px;line-height:10px;font-size:8.6px;">-5% · 1.2M jobs</s></div>
<div class="t tb" style="left:443px;top:1071px;width:69px;height:136px"><i style="top:3px;line-height:10px;font-size:9.2px">Receptionists</i><s style="top:13px;line-height:10px;font-size:8.6px;">0% · 1.0M jobs</s></div>
<div class="t tb" style="left:359px;top:1208px;width:67px;height:42px"><i style="top:3px;line-height:10px;font-size:9.2px">Postal service workers</i><s style="top:13px;line-height:10px;font-size:8.6px;">-5% · 500K jobs</s></div>
<div class="t tr" style="left:517px;top:913px;width:160px;height:94px"><i style="top:1px;line-height:16px;font-size:13.9px">Accountants and auditors</i><s style="top:17px;line-height:14px;font-size:11.9px;">+5% · 1.6M jobs</s></div>
<div class="t tr" style="left:678px;top:913px;width:108px;height:94px"><i style="top:1px;line-height:13px;font-size:11.6px">Management analysts</i><s style="top:16px;line-height:10px;font-size:9.4px;font-weight:700;color:rgba(255,255,255,.45);">+9% · 1.1M jobs</s></div>
<div class="t tr" style="left:517px;top:1008px;width:109px;height:90px"><i style="top:1px;line-height:13px;font-size:11.8px">Project management specialists</i><s style="top:15px;line-height:11px;font-size:9.4px;font-weight:700;color:rgba(255,255,255,.45);">+6% · 1.0M jobs</s></div>
<div class="t tr" style="left:517px;top:1099px;width:109px;height:81px"><i style="top:2px;line-height:13px;font-size:11.8px">Human resources specialists</i><s style="top:16px;line-height:11px;font-size:9.4px;font-weight:700;color:rgba(255,255,255,.45);">+6% · 944K jobs</s></div>
<div class="t tr" style="left:517px;top:1182px;width:109px;height:68px"><i style="top:1px;line-height:13px;font-size:11.8px">Market research analysts and marketing specialists</i><s style="top:15px;line-height:11px;font-size:9.4px;font-weight:700;color:rgba(255,255,255,.45);">+7% · 942K jobs</s></div>
<div class="t tb" style="left:628px;top:1008px;width:90px;height:62px"><i style="top:3px;line-height:10px;font-size:9.2px">Purchasing managers, buyers, and purchasing agents</i><s style="top:13px;line-height:10px;font-size:8.6px;">+5% · 606K jobs</s></div>
<div class="t tb" style="left:719px;top:1008px;width:67px;height:62px"><i style="top:3px;line-height:10px;font-size:9.2px">Training and development specialists</i><s style="top:13px;line-height:10px;font-size:8.6px;">+11% · 452K jobs</s></div>
<div class="t tb" style="left:628px;top:1072px;width:55px;height:72px"><i style="top:3px;line-height:10px;font-size:9.2px">Financial analysts</i></div>
<div class="t tb" style="left:684px;top:1072px;width:54px;height:72px"><i style="top:3px;line-height:10px;font-size:9.2px">Compliance officers</i></div>
<div class="t tb" style="left:679px;top:1145px;width:55px;height:40px"><i style="top:3px;line-height:10px;font-size:9.2px">Logisticians</i></div>
<div class="t tb" style="left:736px;top:1145px;width:50px;height:40px"><i style="top:3px;line-height:10px;font-size:9.2px">Cost estimators</i></div>
<div class="t tr" style="left:791px;top:913px;width:147px;height:105px"><i style="top:1px;line-height:16px;font-size:13.9px">Construction laborers and helpers</i><s style="top:17px;line-height:14px;font-size:11.9px;">+7% · 1.6M jobs</s></div>
<div class="t tb" style="left:940px;top:913px;width:85px;height:105px"><i style="top:3px;line-height:10px;font-size:9.2px">Carpenters</i><s style="top:13px;line-height:10px;font-size:8.6px;">+4% · 959K jobs</s></div>
<div class="t tb" style="left:791px;top:1019px;width:87px;height:88px"><i style="top:3px;line-height:10px;font-size:9.2px">Electricians</i><s style="top:13px;line-height:10px;font-size:8.6px;">+9% · 819K jobs</s></div>
<div class="t tb" style="left:791px;top:1109px;width:87px;height:57px"><i style="top:3px;line-height:10px;font-size:9.2px">Construction equipment operators</i><s style="top:12px;line-height:10px;font-size:8.6px;">+4% · 540K jobs</s></div>
<div class="t tb" style="left:879px;top:1019px;width:86px;height:54px"><i style="top:3px;line-height:10px;font-size:9.2px">Plumbers, pipefitters, and steamfitters</i><s style="top:13px;line-height:10px;font-size:8.6px;">+4% · 505K jobs</s></div>
<div class="t tb" style="left:967px;top:1019px;width:58px;height:54px"><i style="top:3px;line-height:10px;font-size:9.2px">Painters, construction and maintenance</i></div>
<div class="t tr" style="left:1029px;top:913px;width:140px;height:127px"><i style="top:1px;line-height:16px;font-size:13.9px">Assemblers and fabricators</i><s style="top:17px;line-height:14px;font-size:11.9px;">-1% · 1.9M jobs</s></div>
<div class="t tb" style="left:1170px;top:913px;width:74px;height:127px"><i style="top:3px;line-height:10px;font-size:9.2px">Metal and plastic machine workers</i><s style="top:13px;line-height:10px;font-size:8.6px;">-7% · 1.0M jobs</s></div>
<div class="t tb" style="left:1029px;top:1041px;width:80px;height:70px"><i style="top:3px;line-height:10px;font-size:9.2px">Quality control inspectors</i><s style="top:13px;line-height:10px;font-size:8.6px;">0% · 598K jobs</s></div>
<div class="t tb" style="left:1029px;top:1112px;width:80px;height:54px"><i style="top:3px;line-height:10px;font-size:9.2px">Welders, cutters, solderers, and brazers</i><s style="top:13px;line-height:10px;font-size:8.6px;">+2% · 457K jobs</s></div>
<div class="t tr" style="left:1248px;top:913px;width:125px;height:122px"><i style="top:2px;line-height:15px;font-size:13.4px">General maintenance and repair workers</i><s style="top:17px;line-height:12px;font-size:11.5px;">+4% · 1.6M jobs</s></div>
<div class="t tb" style="left:1374px;top:913px;width:62px;height:122px"><i style="top:3px;line-height:10px;font-size:9.2px">Automotive service technicians</i><s style="top:13px;line-height:10px;font-size:8.6px;">+4% · 806K jobs</s></div>
<div class="t tb" style="left:1248px;top:1036px;width:69px;height:72px"><i style="top:3px;line-height:10px;font-size:9.2px">Industrial machinery mechanics</i><s style="top:13px;line-height:10px;font-size:8.6px;">+13% · 538K jobs</s></div>
<div class="t tb" style="left:1248px;top:1109px;width:69px;height:57px"><i style="top:3px;line-height:10px;font-size:9.2px">Heating, air conditioning, and refrigeration</i><s style="top:13px;line-height:10px;font-size:8.6px;">+8% · 425K jobs</s></div>
<div class="t tb" style="left:1319px;top:1036px;width:63px;height:47px"><i style="top:3px;line-height:10px;font-size:9.2px">Diesel service technicians and mechanics</i><s style="top:13px;line-height:10px;font-size:8.6px;">+2% · 320K jobs</s></div>
<div class="t tb" style="left:1383px;top:1036px;width:53px;height:47px"><i style="top:3px;line-height:10px;font-size:9.2px">Telecommunications technicians</i></div>
<div class="t tr" style="left:791px;top:1170px;width:138px;height:80px"><i style="top:1px;line-height:16px;font-size:13.9px">Software developers, quality assurance analysts, and testers</i><s style="top:17px;line-height:14px;font-size:11.9px;">+15% · 1.9M jobs</s></div>
<div class="t tb" style="left:931px;top:1170px;width:63px;height:80px"><i style="top:3px;line-height:10px;font-size:9.2px">Computer support specialists</i><s style="top:13px;line-height:10px;font-size:8.6px;">-3% · 882K jobs</s></div>
<div class="t tb" style="left:999px;top:1170px;width:92px;height:80px"><i style="top:3px;line-height:10px;font-size:9.2px">Childcare workers</i><s style="top:13px;line-height:10px;font-size:8.6px;">-3% · 992K jobs</s></div>
<div class="t tb" style="left:1092px;top:1170px;width:60px;height:80px"><i style="top:3px;line-height:10px;font-size:9.2px">Barbers, hairstylists, and cosmetologists</i></div>
<div class="t tb" style="left:1156px;top:1170px;width:88px;height:80px"><i style="top:3px;line-height:10px;font-size:9.2px">Social workers</i><s style="top:13px;line-height:10px;font-size:8.6px;">+6% · 811K jobs</s></div>
<div class="t tb" style="left:1245px;top:1170px;width:52px;height:80px"><i style="top:3px;line-height:10px;font-size:9.2px">Substance abuse, behavioral disorder, and mental health counselors</i></div>
<div class="t tb" style="left:1302px;top:1170px;width:68px;height:49px"><i style="top:3px;line-height:10px;font-size:9.2px">Civil engineers</i><s style="top:13px;line-height:10px;font-size:8.6px;">+5% · 369K jobs</s></div>
<div class="t tb" style="left:1371px;top:1170px;width:65px;height:49px"><i style="top:3px;line-height:10px;font-size:9.2px">Industrial engineers</i><s style="top:13px;line-height:10px;font-size:8.6px;">+11% · 351K jobs</s></div>
<div class="t tb" style="left:1348px;top:1220px;width:53px;height:30px"><i style="top:3px;line-height:10px;font-size:9.2px">Drafters</i></div>
</div>
</body></html>
